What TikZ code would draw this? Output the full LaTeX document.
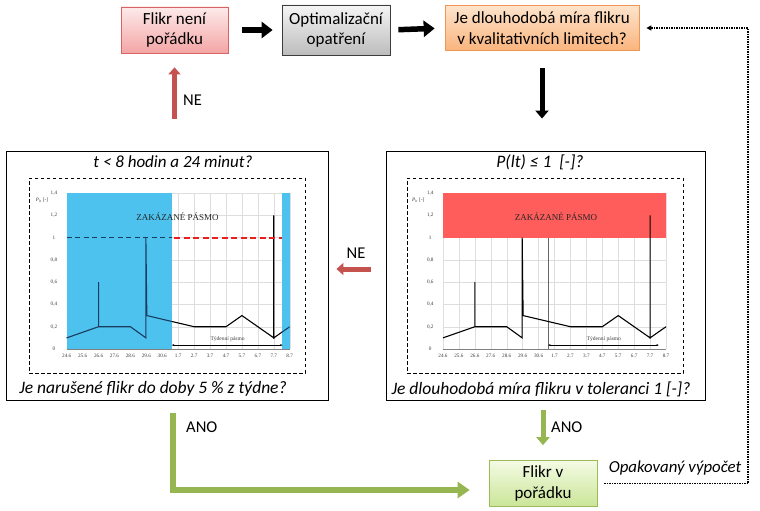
\documentclass[tikz,border=0pt]{standalone}
\usepackage{fontspec}
\setmainfont{Carlito}
\newfontfamily\tnr{Liberation Serif}
\usetikzlibrary{arrows.meta,calc}
\definecolor{pinkT}{RGB}{253,234,234}
\definecolor{pinkB}{RGB}{244,165,165}
\definecolor{pinkD}{RGB}{214,100,100}
\definecolor{grayT}{RGB}{245,245,245}
\definecolor{grayB}{RGB}{188,188,188}
\definecolor{grayD}{RGB}{60,60,60}
\definecolor{orT}{RGB}{253,228,204}
\definecolor{orB}{RGB}{250,180,125}
\definecolor{orD}{RGB}{240,150,80}
\definecolor{grT}{RGB}{244,251,228}
\definecolor{grB}{RGB}{202,229,152}
\definecolor{grD}{RGB}{155,187,89}
\definecolor{arrG}{RGB}{150,182,82}
\definecolor{arrR}{RGB}{196,82,78}
\definecolor{zoneB}{RGB}{77,194,238}
\definecolor{zoneR}{RGB}{255,92,92}
\definecolor{navy}{RGB}{25,60,95}
\definecolor{limR}{RGB}{235,30,30}
\definecolor{gridc}{RGB}{222,222,222}
\definecolor{tickc}{RGB}{60,60,60}
\newcommand{\flkdata}[1]{\draw[#1] (0,0.1)--(2,0.2)--(2,0.6)--(2,0.2)--(4,0.2)--(4.97,0.1)--(4.97,1.0)--(5.03,0.3)--(8,0.2)--(10,0.2)--(11,0.3)--(13,0.1)--(13,1.2)--(13,0.1)--(14,0.2);}
\newcommand{\flkgrid}{%
  \foreach \i in {0,...,14} \draw[gridc, line width=0.4pt] (\i,0)--(\i,1.4);
  \foreach \yv in {0.2,0.4,...,1.4} \draw[gridc, line width=0.4pt] (0,\yv)--(14,\yv);
  \draw[gray, line width=0.4pt] (0,0)--(14,0);}
\newcommand{\flklabels}{%
  \foreach \l [count=\i from 0] in {24.6,25.6,26.6,27.6,28.6,29.6,30.6,1.7,2.7,3.7,4.7,5.7,6.7,7.7,8.7}
    \node[ticklab] at (\i,-0.065) {\l};
  \foreach \yv/\yt in {0/0,0.2/{0,2},0.4/{0,4},0.6/{0,6},0.8/{0,8},1/1,1.2/{1,2},1.4/{1,4}}
    \node[ticklab] at (-0.8,\yv) {\yt};
  \node[ticklab] at (-1.55,1.34) {\textit{P}\textsubscript{lt} [-]};}
\tikzset{
  box/.style={rectangle, line width=0.7pt, align=center, inner sep=2pt,
    font=\fontsize{17}{20.5}\selectfont},
  panel/.style={rectangle, draw, line width=0.9pt, inner sep=0pt},
  dbox/.style={rectangle, draw, dashed, line width=0.8pt, dash pattern=on 3.5pt off 2.5pt, inner sep=0pt},
  qtext/.style={font=\fontsize{17.5}{20}\selectfont\itshape, inner sep=0pt},
  lab/.style={font=\fontsize{16.5}{19}\selectfont, inner sep=0pt},
  blkarrow/.style={black, line width=5.5pt, -{Triangle[length=11pt,width=16pt]}},
  blkdown/.style={black, line width=5pt, -{Triangle[length=8pt,width=13pt]}},
  redarrow/.style={arrR, line width=5pt, -{Triangle[length=7pt,width=12pt]}},
  grnarrow/.style={arrG, line width=6pt, -{Triangle[length=12pt,width=16pt]}},
  grndown/.style={arrG, line width=5pt, -{Triangle[length=8pt,width=13pt]}},
  dotarrow/.style={black, line width=1.8pt, dash pattern=on 1.4pt off 1.1pt, -{Triangle[length=5pt,width=5pt]}},
  ticklab/.style={font=\tnr\fontsize{5.2}{6}\selectfont, text=tickc, inner sep=0pt},
  zak/.style={font=\tnr\fontsize{9}{10}\selectfont, text=black!85, inner sep=0pt},
  tyd/.style={font=\tnr\fontsize{5.5}{6}\selectfont, text=tickc, inner sep=0pt},
  limline/.style={draw=limR, line width=2pt, dash pattern=on 6pt off 3.5pt},
}
\begin{document}
\begin{tikzpicture}[x=1pt,y=-1pt]
\useasboundingbox (0,0) rectangle (760,511);
\fill[white] (0,0) rectangle (760,511);
% top row
\node[box, draw=pinkD, top color=pinkT, bottom color=pinkB, minimum width=107pt, minimum height=46pt] (flikr) at (174.5,30) {Flikr není\\pořádku};
\node[box, draw=grayD, top color=grayT, bottom color=grayB, minimum width=108pt, minimum height=50pt] (opt) at (336,30) {Optimalizační\\opatření};
\node[box, draw=orD, top color=orT, bottom color=orB, minimum width=194pt, minimum height=45pt] (orange) at (542,28) {Je dlouhodobá míra flikru\\v kvalitativních limitech?};
% panels
\node[panel, minimum width=322pt, minimum height=249pt] (lp) at (167,275.5) {};
\node[panel, minimum width=319pt, minimum height=249pt] (rp) at (545.5,275.5) {};
\node[dbox, minimum width=276pt, minimum height=195pt] (ld) at (167,275.5) {};
\node[dbox, minimum width=276pt, minimum height=195pt] (rd) at (545,275.5) {};
\node[qtext, font=\fontsize{17}{20}\selectfont\itshape] (lt) at (173,162) {t < 8 hodin a 24 minut?};
\node[qtext] (lb) at (153,389) {Je narušené flikr do doby 5 \% z týdne?};
\node[qtext] (rt) at (540,162) {P(lt) ≤ 1\ \ [-]?};
\node[qtext] (rb) at (541,389) {Je dlouhodobá míra flikru v toleranci 1 [-]?};
% green box
\node[box, draw=grD, top color=grT, bottom color=grB, minimum width=108pt, minimum height=46pt] (green) at (543,483.5) {Flikr v\\pořádku};
% left chart
\begin{scope}[shift={(66.7pt,-349pt)}, x=15.93pt, y=111.4pt]
  \flkgrid
  \flkdata{black, line width=1.1pt}
  \fill[zoneB] (0,0) rectangle (6.6,1.4);
  \fill[zoneB] (13.5,0) rectangle (14,1.4);
  \begin{scope}
    \clip (0,0) rectangle (6.6,1.4) (13.5,0) rectangle (14,1.4);
    \flkdata{navy, line width=1.1pt}
  \end{scope}
  \draw[navy, line width=1.3pt, dash pattern=on 5pt off 3.5pt] (0,1)--(6.6,1);
  \path[limline] (6.75,1)--(13.5,1);
  \node[zak] (lzak) at (6.95,1.185) {ZAKÁZANÉ PÁSMO};
  \draw[black, line width=0.4pt, {Stealth[length=2.5pt,width=2pt]}-{Stealth[length=2.5pt,width=2pt]}] (6.6,0.035)--(13.55,0.035);
  \node[tyd] (ltyd) at (10.1,0.085) {Týdenní pásmo};
  \flklabels
\end{scope}
% right chart
\begin{scope}[shift={(443pt,-349pt)}, x=15.93pt, y=111.4pt]
  \flkgrid
  \fill[zoneR] (0,1) rectangle (14,1.4);
  \draw[gray!80!black, line width=0.5pt] (6.6,0)--(6.6,1);
  \flkdata{black, line width=1.1pt}
  \node[zak] (rzak) at (7.1,1.19) {ZAKÁZANÉ PÁSMO};
  \draw[black, line width=0.4pt, {Stealth[length=2.5pt,width=2pt]}-{Stealth[length=2.5pt,width=2pt]}] (6.6,0.035)--(13.55,0.035);
  \node[tyd] (rtyd) at (10.1,0.085) {Týdenní pásmo};
  \flklabels
\end{scope}
% connectors
\draw[blkarrow, shorten <=14pt, shorten >=9pt] (flikr.east) -- (opt.west);
\draw[blkarrow, shorten <=8pt, shorten >=10pt] (opt.east) -- (orange.west);
\draw[blkdown, shorten <=17pt, shorten >=32pt] (orange.south) -- (orange.south |- rp.north);
\draw[redarrow, shorten <=32pt, shorten >=14pt] (flikr.south |- lp.north) -- (flikr.south);
\node[lab, anchor=west] (ne1) at (183,100) {NE};
\draw[redarrow, shorten <=15pt, shorten >=8pt] ([yshift=6.5pt]rp.west) -- ([yshift=6.5pt]lp.east);
\node[lab] (ne2) at (356,253) {NE};
\draw[grnarrow, shorten <=13pt, shorten >=19pt] ([xshift=6pt]lp.south) |- ([yshift=-6.5pt]green.west);
\node[lab, anchor=west] (ano1) at (186,427) {ANO};
\draw[grndown, shorten <=10pt, shorten >=15pt] (green.north |- rp.south) -- (green.north);
\node[lab, anchor=west] (ano2) at (551,427) {ANO};
\draw[dotarrow, shorten <=7pt, shorten >=7pt] (green.east) -- ++(151,0) |- (orange.east);
\node[font=\fontsize{16.8}{19}\selectfont\itshape, inner sep=0pt] (rep) at (675,468) {Opakovaný výpočet};
\end{tikzpicture}
\end{document}
